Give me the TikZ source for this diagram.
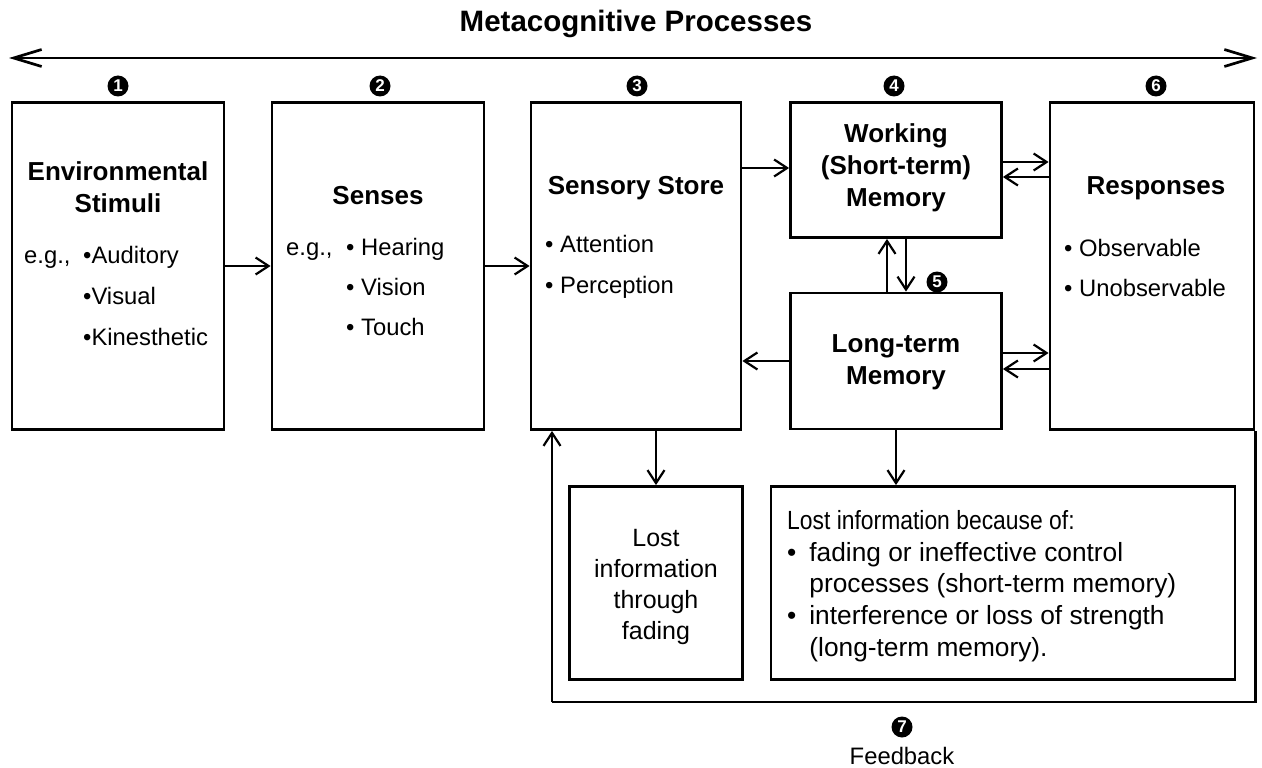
\documentclass[tikz,border=0pt]{standalone}
\usepackage{fontspec}
\setmainfont{Liberation Sans}
\usetikzlibrary{arrows.meta,calc}

\tikzset{
  box/.style={draw, line width=2.8pt, inner sep=0pt},
  head/.style={font=\fontsize{26}{32}\selectfont\bfseries, align=center, inner sep=0pt},
  body/.style={font=\fontsize{23.8}{31}\selectfont, inner sep=0pt},
  num/.style={circle, fill=black, text=white, inner sep=0pt, minimum size=21pt,
              font=\fontsize{17}{17}\selectfont\bfseries},
  conn/.style={line width=2.2pt, -{Straight Barb[length=13pt,width=17pt]}},
}

\begin{document}
\begin{tikzpicture}[x=1pt,y=-1pt]
\useasboundingbox (0,0) rectangle (1262,768);

% title and the process-wide arrow
\node[font=\fontsize{29.5}{34}\selectfont\bfseries, inner sep=0pt] (title) at (636,24) {Metacognitive Processes};
\coordinate (metaL) at (9,58);
\coordinate (metaR) at (1257,58);
\draw[line width=2.7pt, {Straight Barb[length=28pt,width=17pt]}-{Straight Barb[length=28pt,width=17pt]}] (metaL) -- (metaR);

% stage boxes
\node[box, minimum width=212pt, minimum height=327pt] (env)  at (118,266) {};
\node[box, minimum width=212pt, minimum height=327pt] (sen)  at (378,266) {};
\node[box, minimum width=210pt, minimum height=327pt] (ss)   at (636,266) {};
\node[box, minimum width=211pt, minimum height=135pt] (wm)   at (896,170) {};
\node[box, minimum width=211pt, minimum height=136pt] (ltm)  at (896,361) {};
\node[box, minimum width=204pt, minimum height=327pt] (resp) at (1152,266) {};
\node[box, minimum width=173pt, minimum height=193pt] (lostA) at (656,583) {};
\node[box, minimum width=464pt, minimum height=193pt] (lostB) at (1003,583) {};

% stage numbers
\node[num] (n1) at (118,86) {1};
\node[num] (n2) at (380,86) {2};
\node[num] (n3) at (637,86) {3};
\node[num] (n4) at (894,86) {4};
\node[num] (n5) at (937,282) {5};
\node[num] (n6) at (1156,86) {6};
\node[num] (n7) at (902,727) {7};
\node[body] (fb) at (902,756) {Feedback};

% environmental stimuli
\node[head] (envT) at (118,187) {Environmental\\Stimuli};
\node[body, anchor=base west] (eg1) at (24,263) {e.g.,};
\node[body, anchor=base west] (e1) at (83,263) {•Auditory};
\node[body, anchor=base west] (e2) at (83,304) {•Visual};
\node[body, anchor=base west] (e3) at (83,345) {•Kinesthetic};

% senses
\node[head] (senT) at (378,196) {Senses};
\node[body, anchor=base west] (eg2) at (286,255) {e.g.,};
\node[body, anchor=base west] (s1) at (346,255) {• Hearing};
\node[body, anchor=base west] (s2) at (346,295) {• Vision};
\node[body, anchor=base west] (s3) at (346,335) {• Touch};

% sensory store
\node[head] (ssT) at (636,188) {Sensory Store};
\node[body, anchor=base west] (ss1) at (545,252) {• Attention};
\node[body, anchor=base west] (ss2) at (545,293) {• Perception};

% working and long-term memory
\node[head] (wmT) at (896,168) {Working\\(Short-term)\\Memory};
\node[head] (ltmT) at (896,362) {Long-term\\Memory};

% responses
\node[head] (respT) at (1156,188) {Responses};
\node[body, anchor=base west] (r1) at (1064,256) {• Observable};
\node[body, anchor=base west] (r2) at (1064,296) {• Unobservable};

% lost information
\node[body, align=center, font=\fontsize{25}{30.7}\selectfont] (lostAT) at (656,587) {Lost\\information\\through\\fading};
\node[body, anchor=north west, font=\fontsize{26.3}{31.7}\selectfont] (lostBT) at (787,507) {%
  \begin{tabular}{@{}l@{\hspace{13pt}}l@{}}
  \multicolumn{2}{@{}l@{}}{\scalebox{0.87}[1]{Lost information because of:}}\\
  • & fading or ineffective control\\
    & processes (short-term memory)\\
  • & interference or loss of strength\\
    & (long-term memory).
  \end{tabular}};

% forward flow
\draw[conn] (env.east) -- (sen.west);
\draw[conn] (sen.east) -- (ss.west);
\draw[conn] (ss.east |- 0,168) -- (wm.west |- 0,168);
\draw[conn] ($(wm.east)+(0,-8)$) -- ($(resp.west |- wm.east)+(0,-8)$);
\draw[conn] ($(resp.west |- wm.east)+(0,7)$) -- ($(wm.east)+(0,7)$);
\draw[conn] ($(ltm.east)+(0,-8)$) -- ($(resp.west |- ltm.east)+(0,-8)$);
\draw[conn] ($(resp.west |- ltm.east)+(0,8)$) -- ($(ltm.east)+(0,8)$);
\draw[conn] (ltm.west) -- (ss.east |- ltm.west);
\draw[conn] (ltm.north -| 887,0) -- (wm.south -| 887,0);
\draw[conn] (wm.south -| 906,0) -- (ltm.north -| 906,0);

% loss of information
\draw[conn] (lostA.north |- ss.south) -- (lostA.north);
\draw[conn] (ltm.south) -- (ltm.south |- lostB.north);

% feedback loop
\coordinate (fbR) at (resp.south east |- 0,702);
\coordinate (fbL) at (552,702);
\draw[line width=2.2pt] (resp.south east) -- (fbR) -- (fbL);
\draw[conn] (fbL) -- (fbL |- ss.south);
\end{tikzpicture}
\end{document}
